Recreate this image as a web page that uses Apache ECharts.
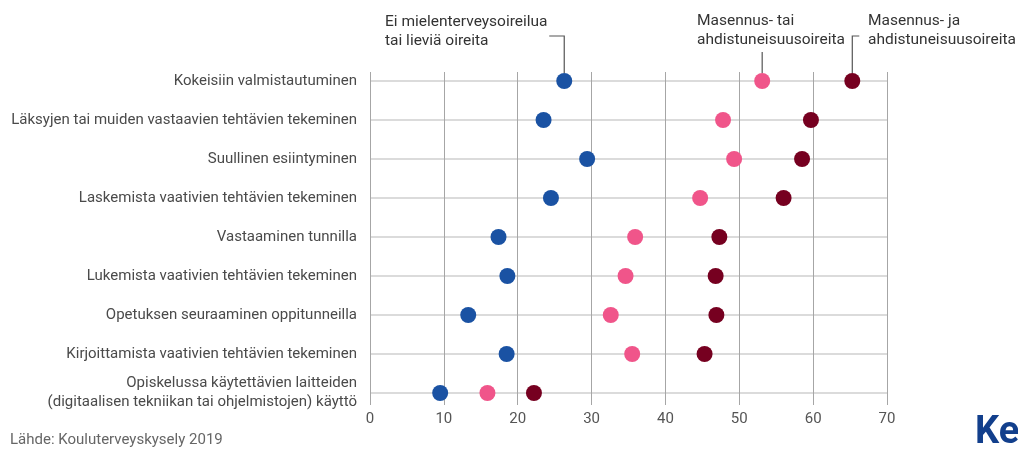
<!DOCTYPE html>
<html>
<head>
	<meta charset="utf-8">
	<title>echarts</title>
	<script type="text/javascript" src="https://cdn.jsdelivr.net/npm/echarts@6/dist/echarts.min.js"></script>
	<style>
		html, body { margin: 0; padding: 0; background: #fff; }
	</style>
</head>
<body>
	<div id="mychar" style="width: 1018px;height:451px;"></div>

	<script type="text/javascript">
		var categories = [
		    'Kokeisiin valmistautuminen',
		    'Läksyjen tai muiden vastaavien tehtävien tekeminen',
		    'Suullinen esiintyminen',
		    'Laskemista vaativien tehtävien tekeminen',
		    'Vastaaminen tunnilla',
		    'Lukemista vaativien tehtävien tekeminen',
		    'Opetuksen seuraaminen oppitunneilla',
		    'Kirjoittamista vaativien tehtävien tekeminen',
		    'Opiskelussa käytettävien laitteiden\n(digitaalisen tekniikan tai ohjelmistojen) käyttö'
		];
		var seriesNames = [
		    'Ei mielenterveysoireilua\ntai lieviä oireita',
		    'Masennus- tai\nahdistuneisuusoireita',
		    'Masennus- ja\nahdistuneisuusoireita'
		];
		var noSymptoms = [26.3, 23.5, 29.4, 24.5, 17.4, 18.6, 13.3, 18.5, 9.5];
		var orSymptoms = [53.1, 47.8, 49.3, 44.7, 35.9, 34.6, 32.6, 35.5, 15.9];
		var andSymptoms = [65.3, 59.7, 58.5, 56.0, 47.3, 46.8, 46.9, 45.3, 22.2];
		var xTicks = [0, 10, 20, 30, 40, 50, 60, 70];
		var source = 'Lähde: Kouluterveyskysely 2019';

		var colors = ['#1a52a3', '#f0558a', '#760020'];
		var font = 'Roboto, "Noto Sans", sans-serif';

		var mychar = echarts.init(document.getElementById("mychar"));

		function dots(name, values, color) {
		    return {
		        name: name,
		        type: 'scatter',
		        xAxisIndex: 1,
		        yAxisIndex: 1,
		        symbolSize: 16,
		        itemStyle: { color: color, opacity: 1 },
		        data: values.map(function (v, i) { return [v, categories[i]]; }),
		        z: 5
		    };
		}

		var option = {
		    animation: false,
		    textStyle: { fontFamily: font },
		    grid: [
		        { left: 370, right: 131, top: 72, bottom: 46 },
		        { left: 370, right: 131, top: 81, bottom: 58 }
		    ],
		    xAxis: [
		        {
		            gridIndex: 0,
		            type: 'value',
		            min: xTicks[0],
		            max: xTicks[xTicks.length - 1],
		            interval: 10,
		            axisLine: { show: false },
		            axisTick: { show: false },
		            axisLabel: { color: '#555', fontSize: 15, margin: 7, fontFamily: font },
		            splitLine: { show: true, lineStyle: { color: '#a6a6a6', width: 1 } }
		        },
		        {
		            gridIndex: 1,
		            type: 'value',
		            min: xTicks[0],
		            max: xTicks[xTicks.length - 1],
		            show: false
		        }
		    ],
		    yAxis: [
		        { gridIndex: 0, type: 'value', show: false },
		        {
		            gridIndex: 1,
		            type: 'category',
		            data: categories,
		            inverse: true,
		            boundaryGap: false,
		            axisLine: { show: false },
		            axisTick: { show: false },
		            axisLabel: { color: '#4a4a4a', fontSize: 15, margin: 13, lineHeight: 19, fontFamily: font },
		            splitLine: { show: true, lineStyle: { color: '#cfcfcf', width: 1.5 } }
		        }
		    ],
		    series: [
		        dots(seriesNames[0], noSymptoms, colors[0]),
		        dots(seriesNames[1], orSymptoms, colors[1]),
		        dots(seriesNames[2], andSymptoms, colors[2])
		    ]
		};

		mychar.setOption(option);

		// leader lines from the series names down to the first row
		var p0 = mychar.convertToPixel({ seriesIndex: 0 }, [noSymptoms[0], categories[0]]);
		var p1 = mychar.convertToPixel({ seriesIndex: 1 }, [orSymptoms[0], categories[0]]);
		var p2 = mychar.convertToPixel({ seriesIndex: 2 }, [andSymptoms[0], categories[0]]);
		var lineStyle = { stroke: '#555', lineWidth: 1.2 };
		var textStyle = { fill: '#333', font: '15.5px ' + font, lineHeight: 19 };

		mychar.setOption({
		    graphic: [
		        { type: 'polyline', shape: { points: [[p0[0] - 15, 36], [p0[0], 36], [p0[0], p0[1] - 8]] }, style: lineStyle },
		        { type: 'polyline', shape: { points: [[p1[0], 52], [p1[0], p1[1] - 8]] }, style: lineStyle },
		        { type: 'polyline', shape: { points: [[p2[0] + 7, 36], [p2[0], 36], [p2[0], p2[1] - 8]] }, style: lineStyle },
		        { type: 'text', left: 385, top: 13, style: Object.assign({ text: seriesNames[0] }, textStyle) },
		        { type: 'text', left: 697, top: 12, style: Object.assign({ text: seriesNames[1] }, textStyle) },
		        { type: 'text', left: 868, top: 12, style: Object.assign({ text: seriesNames[2] }, textStyle) },
		        { type: 'text', left: 10, top: 433, style: { text: source, fill: '#666', font: '15px ' + font } },
		        { type: 'text', left: 975, top: 414, style: { text: 'Ke', fill: '#123f8c', font: 'bold 38px ' + font } }
		    ]
		});
	</script>
</body>
</html>
